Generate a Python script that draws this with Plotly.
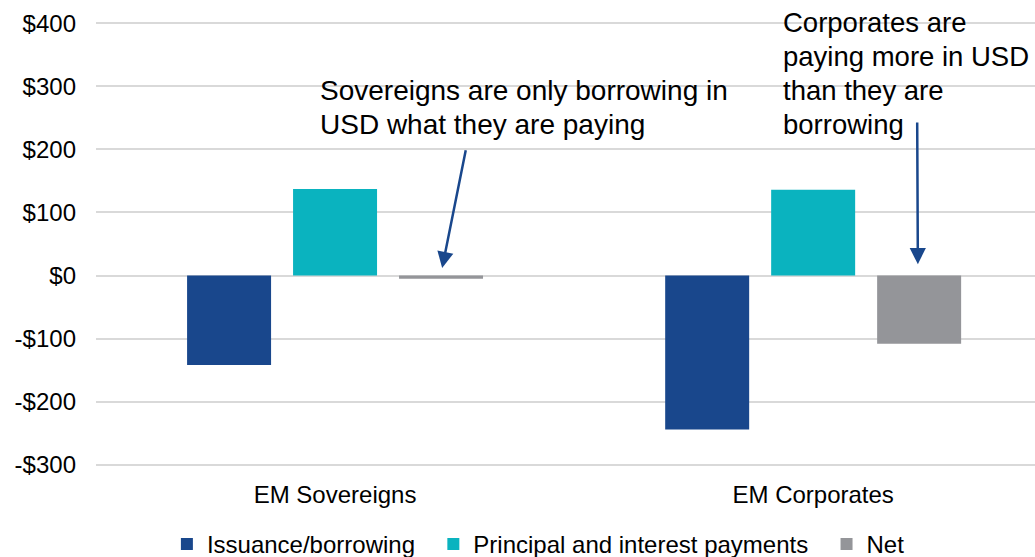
import plotly.graph_objects as go

categories = ["EM Sovereigns", "EM Corporates"]
series_names = ["Issuance/borrowing", "Principal and interest payments", "Net"]
issuance = [-142, -244]
payments = [137, 136]
net = [-5, -108]
colors = ["#19478C", "#0AB3BF", "#949599"]

tick_vals = [-300, -200, -100, 0, 100, 200, 300, 400]
tick_text = ["-$300", "-$200", "-$100", "$0", "$100", "$200", "$300", "$400"]

sov_note = ["Sovereigns are only borrowing in", "USD what they are paying"]
corp_note = ["Corporates are", "paying more in USD", "than they are", "borrowing"]

FONT = "Liberation Sans, Arial, sans-serif"
PAD = "\u00a0\u00a0"

fig = go.Figure()
for k, (name, vals, c) in enumerate(zip(series_names, [issuance, payments, net], colors)):
    label = name + (PAD if k < 2 else "")
    fig.add_trace(go.Bar(x=categories, y=vals, name=label, marker=dict(color=c, line=dict(width=0))))

annotations = []

def py(p):
    return (464.5 - p) / 441.5

for i, line in enumerate(sov_note):
    annotations.append(dict(x=(318 - 96) / 939, y=py(92 + 33.5 * i), xref="paper", yref="paper",
                            text=line, showarrow=False, xanchor="left", yanchor="middle",
                            font=dict(size=28, color="#000000", family=FONT)))
for i, line in enumerate(corp_note):
    annotations.append(dict(x=(781 - 96) / 939, y=py(24.5 + 33.5 * i), xref="paper", yref="paper",
                            text=line, showarrow=False, xanchor="left", yanchor="middle",
                            font=dict(size=27.5, color="#000000", family=FONT)))

annotations.append(dict(x=0.224, y=12, xref="x", yref="y", ax=0.274, ay=201, axref="x", ayref="y",
                        text="", showarrow=True, arrowhead=2, arrowsize=1.3, arrowwidth=2.5,
                        arrowcolor="#19478C"))
annotations.append(dict(x=1.219, y=18, xref="x", yref="y", ax=1.2176, ay=245, axref="x", ayref="y",
                        text="", showarrow=True, arrowhead=2, arrowsize=1.3, arrowwidth=2.5,
                        arrowcolor="#19478C"))

fig.update_layout(
    width=1035, height=557,
    margin=dict(l=96, r=0, t=20.79, b=90.29, autoexpand=False),
    paper_bgcolor="white", plot_bgcolor="white",
    barmode="group", bargap=0.335, bargroupgap=0.2075,
    font=dict(family=FONT, size=24, color="#000000"),
    showlegend=True,
    legend=dict(orientation="h", x=0.0755, xanchor="left", y=-0.1735, yanchor="middle",
                font=dict(size=24, family=FONT), bgcolor="rgba(0,0,0,0)"),
    annotations=annotations,
)
fig.update_xaxes(range=[-0.5, 1.464], showgrid=False, showline=False, ticks="",
                 tickfont=dict(size=24), ticklabelstandoff=11)
fig.update_yaxes(range=[-303.5, 403.5], tickvals=tick_vals, ticktext=tick_text,
                 showgrid=True, gridcolor="#D9D9D9", gridwidth=1.5,
                 zeroline=True, zerolinecolor="#D9D9D9", zerolinewidth=1.5,
                 showline=False, ticks="", tickfont=dict(size=24), ticklabelstandoff=19)

fig.write_html("out.html", config={"displayModeBar": False},
               post_script="document.body.style.margin='0';document.body.style.padding='0';")
